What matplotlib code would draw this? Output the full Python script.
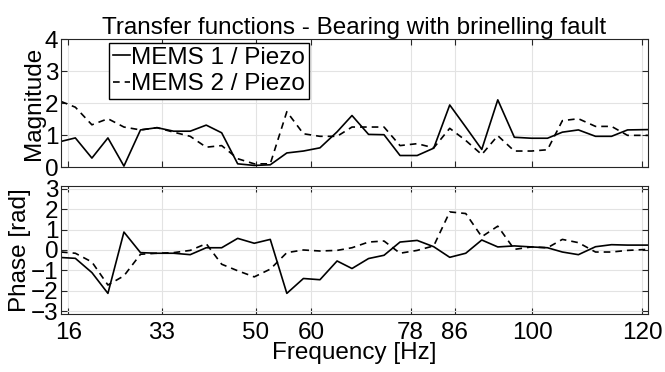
import numpy as np
import matplotlib.pyplot as plt

plt.rcParams['font.family'] = ['Liberation Sans', 'DejaVu Sans']

freq = [14.7, 17.3, 20.3, 23.2, 26.1, 29.1, 32.1, 35.1, 38.1, 41.0, 43.8, 46.7,
        49.7, 52.6, 55.6, 58.6, 61.6, 64.7, 67.4, 70.4, 73.2, 76.1, 79.2, 82.2,
        85.1, 88.0, 90.9, 93.8, 96.8, 99.9, 102.8, 105.5, 108.4, 111.5, 114.4,
        117.3, 121.0]

mag1 = [0.80, 0.91, 0.28, 0.91, 0.03, 1.16, 1.23, 1.12, 1.12, 1.31, 1.07, 0.10,
        0.05, 0.07, 0.44, 0.50, 0.60, 1.10, 1.61, 1.02, 1.01, 0.36, 0.36, 0.59,
        1.94, 1.25, 0.55, 2.10, 0.93, 0.90, 0.90, 1.09, 1.16, 0.96, 0.96, 1.16,
        1.17]
mag2 = [2.05, 1.87, 1.32, 1.51, 1.25, 1.16, 1.23, 1.09, 0.96, 0.62, 0.67, 0.26,
        0.10, 0.10, 1.73, 1.04, 0.96, 0.96, 1.25, 1.25, 1.25, 0.67, 0.73, 0.60,
        1.21, 0.83, 0.39, 0.98, 0.50, 0.50, 0.54, 1.45, 1.51, 1.27, 1.27, 0.99,
        0.99]

phase1 = [-0.37, -0.41, -1.11, -2.13, 0.88, -0.13, -0.16, -0.16, -0.23, 0.11,
          0.11, 0.57, 0.33, 0.52, -2.13, -1.40, -1.46, -0.54, -0.91, -0.42,
          -0.26, 0.39, 0.47, 0.16, -0.36, -0.16, 0.49, 0.15, 0.20, 0.15, 0.11,
          -0.10, -0.23, 0.16, 0.26, 0.24, 0.24]
phase2 = [-0.10, -0.16, -0.59, -1.72, -1.27, -0.21, -0.16, -0.13, -0.02, 0.31,
          -0.70, -1.02, -1.32, -0.94, -0.13, 0.00, -0.05, -0.02, 0.11, 0.39,
          0.44, -0.16, -0.02, 0.20, 1.87, 1.79, 0.65, 1.17, 0.03, 0.15, 0.11,
          0.52, 0.36, -0.10, -0.10, -0.02, 0.03]

xticks = [16, 33, 50, 60, 78, 86, 100, 120]
fs = 17.5

fig = plt.figure(figsize=(6.65, 3.72), dpi=100)
ax1 = fig.add_axes([0.0917, 0.551, 0.8827, 0.344])
ax2 = fig.add_axes([0.0917, 0.156, 0.8827, 0.344])

dash = (0, (4, 3))
ax1.plot(freq, mag1, color='k', lw=1.2, label='MEMS 1 / Piezo')
ax1.plot(freq, mag2, color='k', lw=1.2, ls=dash, label='MEMS 2 / Piezo')
ax2.plot(freq, phase1, color='k', lw=1.2)
ax2.plot(freq, phase2, color='k', lw=1.2, ls=dash)

for ax in (ax1, ax2):
    ax.set_xlim(14.7, 121)
    ax.set_xticks(xticks)
    ax.grid(True, color='#e3e3e3', lw=0.8)
    ax.set_axisbelow(True)
    ax.tick_params(direction='in', top=True, right=True, length=4,
                   labelsize=fs, color='#262626', pad=2)
    for s in ax.spines.values():
        s.set_color('#262626')
        s.set_linewidth(0.8)

ax1.set_ylim(0, 4)
ax1.set_yticks([0, 1, 2, 3, 4])
ax1.tick_params(labelbottom=False)
ax1.set_ylabel('Magnitude', fontsize=fs, labelpad=0)
ax1.set_title('Transfer functions - Bearing with brinelling fault',
              fontsize=fs, pad=3)
ax1.legend(loc='upper left', bbox_to_anchor=(0.082, 0.97), fontsize=fs,
           handlelength=0.7, handletextpad=0.05, borderpad=0.15,
           labelspacing=0.2, borderaxespad=0, frameon=True, fancybox=False,
           edgecolor='k', framealpha=1)

ax2.set_ylim(-np.pi, np.pi)
ax2.set_yticks([-3, -2, -1, 0, 1, 2, 3])
ax2.set_ylabel('Phase [rad]', fontsize=fs, labelpad=0)
ax2.set_xlabel('Frequency [Hz]', fontsize=fs, labelpad=-1.5)
ax2.tick_params(axis='x', pad=6)

fig.savefig('out.png', dpi=100)
